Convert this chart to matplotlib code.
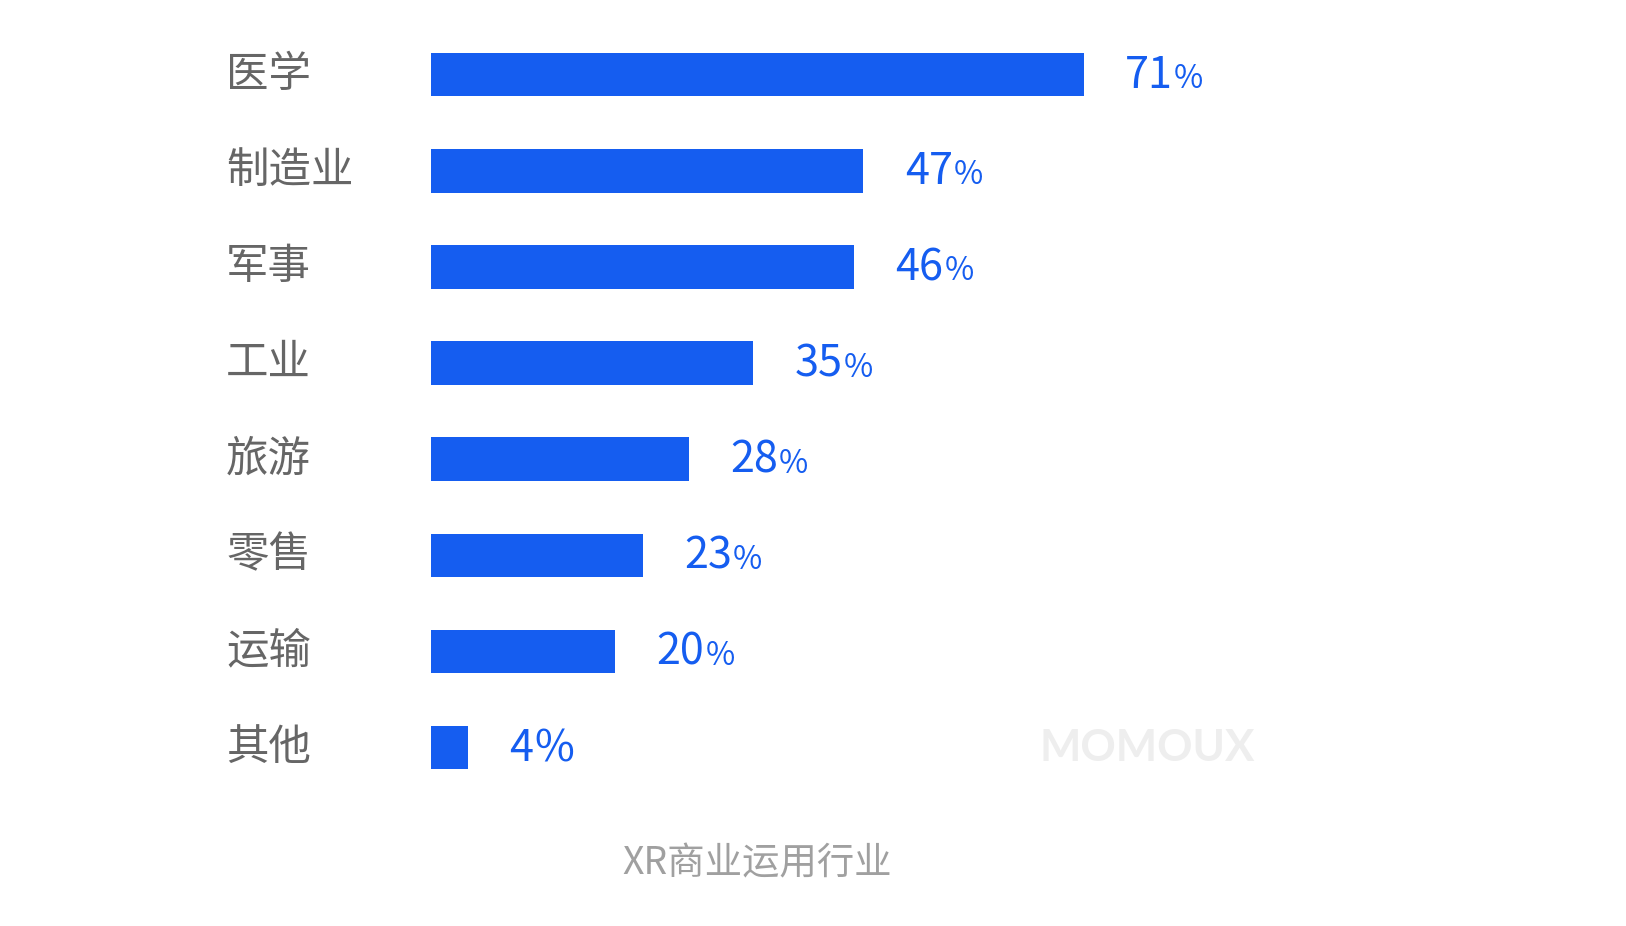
import matplotlib
matplotlib.use("Agg")
import matplotlib.pyplot as plt
import matplotlib.transforms as mtransforms

plt.rcParams['font.family'] = ['Noto Sans CJK SC', 'DejaVu Sans']

categories = ["医学", "制造业", "军事", "工业", "旅游", "零售", "运输", "其他"]
values = [71, 47, 46, 35, 28, 23, 20, 4]
title = "XR商业运用行业"
watermark = "MOMOUX"

W, H, DPI = 1626, 926, 100
S = W / 1568.0  # layout measured on a 1568-wide view
BAR_COLOR = "#155df0"
LABEL_COLOR = "#666666"

fig = plt.figure(figsize=(W / DPI, H / DPI), dpi=DPI)
fig.patch.set_facecolor("white")

px_per_unit = 8.86 * S
ax_left_px = 416 * S
ax_top_px = 25.6 * S
ax_h_px = 741.7 * S
ax = fig.add_axes([ax_left_px / W, 1 - (ax_top_px + ax_h_px) / H,
                   (W - ax_left_px) / W, ax_h_px / H])
ax.set_xlim(0, (W - ax_left_px) / px_per_unit)
ax.set_ylim(len(categories) - 0.5, -0.5)
ax.axis("off")

ypos = list(range(len(categories)))
ax.barh(ypos, values, height=0.453, color=BAR_COLOR, linewidth=0)

blend = mtransforms.blended_transform_factory(fig.transFigure, ax.transData)
for y, c in zip(ypos, categories):
    ax.text(218 * S / W, y, c, transform=blend, ha="left", va="center",
            fontsize=29.5 * S, color=LABEL_COLOR, fontweight="light")

fig.canvas.draw()
renderer = fig.canvas.get_renderer()
pt = DPI / 72.0
for y, v in zip(ypos, values):
    t = ax.annotate(str(v), xy=(v, y), xytext=(40 * S / pt, -13 * S / pt),
                    textcoords="offset points", ha="left", va="baseline",
                    fontsize=30 * S, color=BAR_COLOR, fontweight="light")
    fig.canvas.draw()
    bb = t.get_window_extent(renderer)
    xb, yb = ax.transData.transform((v, y))
    pct_size = 30 * S if v < 10 else 22 * S
    fig.text((bb.x1 + 1) / W, (yb - 13 * S) / H, "%", ha="left", va="baseline",
             fontsize=pct_size, color=BAR_COLOR, fontweight="light")

fig.text(730 * S / W, 1 - 833 * S / H, title, ha="center", va="center",
         fontsize=26 * S, color="#a0a0a0", fontweight="light")

fig.text(1106 * S / W, 1 - 721 * S / H, watermark, ha="center", va="center",
         fontsize=30.5 * S, color="#eeeeee", fontweight="bold",
         family=["Lato", "DejaVu Sans"])

fig.savefig("out.png", dpi=DPI, facecolor="white")
